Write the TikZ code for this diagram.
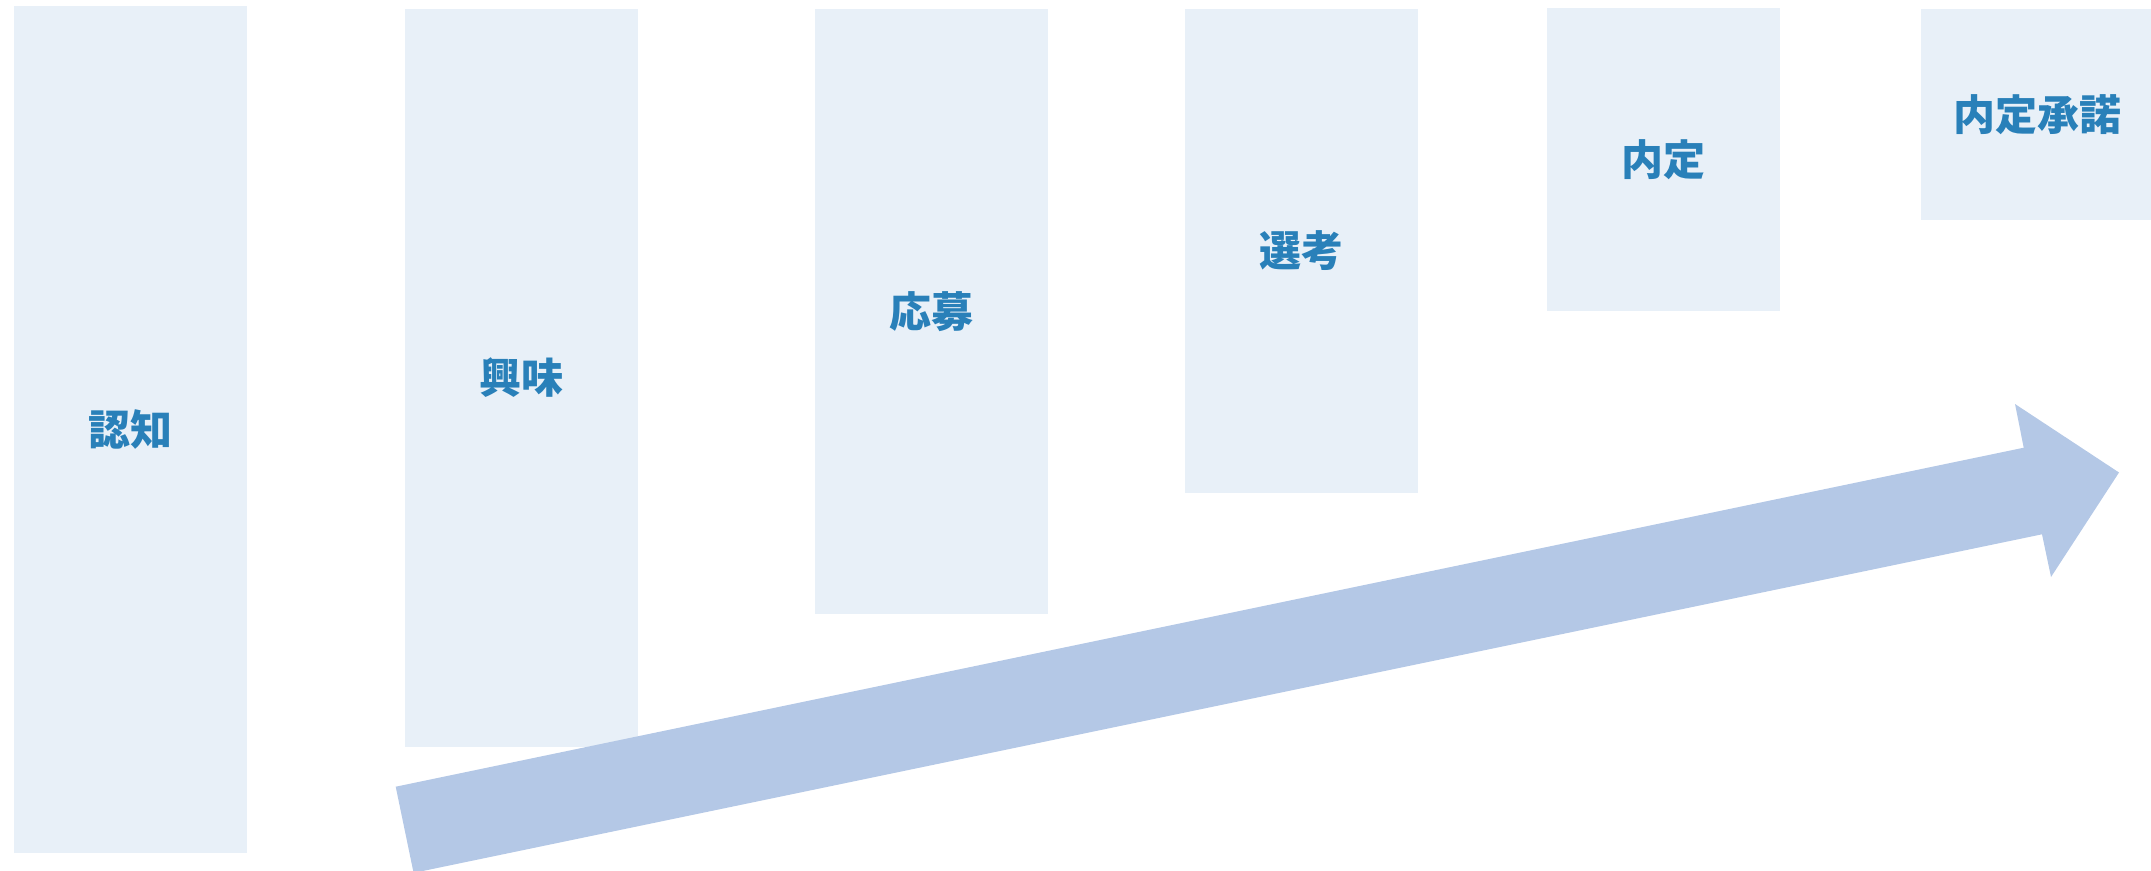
\documentclass[tikz,border=0pt]{standalone}
\usepackage{fontspec}
\newfontfamily\jpfont{Noto Sans CJK JP}
\usepackage{tikz}
\definecolor{stagefill}{RGB}{232,240,248}
\definecolor{stagetext}{RGB}{41,128,185}
\definecolor{flowblue}{RGB}{180,200,230}
\tikzset{
	stage/.style={fill=stagefill, draw=none, inner sep=0pt, minimum width=233pt,
		text=stagetext, font=\jpfont\bfseries\fontsize{42}{50}\selectfont}
}

\begin{document}
\begin{tikzpicture}[x=1pt, y=-1pt]
		%%%%% START %%%%%
		\useasboundingbox (0, 0) rectangle (2151, 870);
		\clip (0, 0) rectangle (2151, 870);
		
		\node[stage, minimum height=847pt] (ninchi) at (130.4, 429.5) {認知};
		\node[stage, minimum height=738pt] (kyoumi) at (521.5, 378) {興味};
		\node[stage, minimum height=605pt] (oubo) at (931.5, 311.5) {応募};
		\node[stage, minimum height=484pt] (senkou) at (1301.5, 251) {選考};
		\node[stage, minimum height=303pt] (naitei) at (1663.5, 159.5) {内定};
		\node[stage, minimum height=211pt] (shoudaku) at (2037.5, 114.5) {内定承諾};
		
		% big arrow
		\fill[flowblue] (395.7, 786.7) -- (2023.7, 447.7) -- (2015, 404) -- (2119, 472.5)
			-- (2051, 577) -- (2042, 534.3) -- (413.6, 872.9) -- cycle;
		
		%%%%% END %%%%%
	\end{tikzpicture}
\end{document}
